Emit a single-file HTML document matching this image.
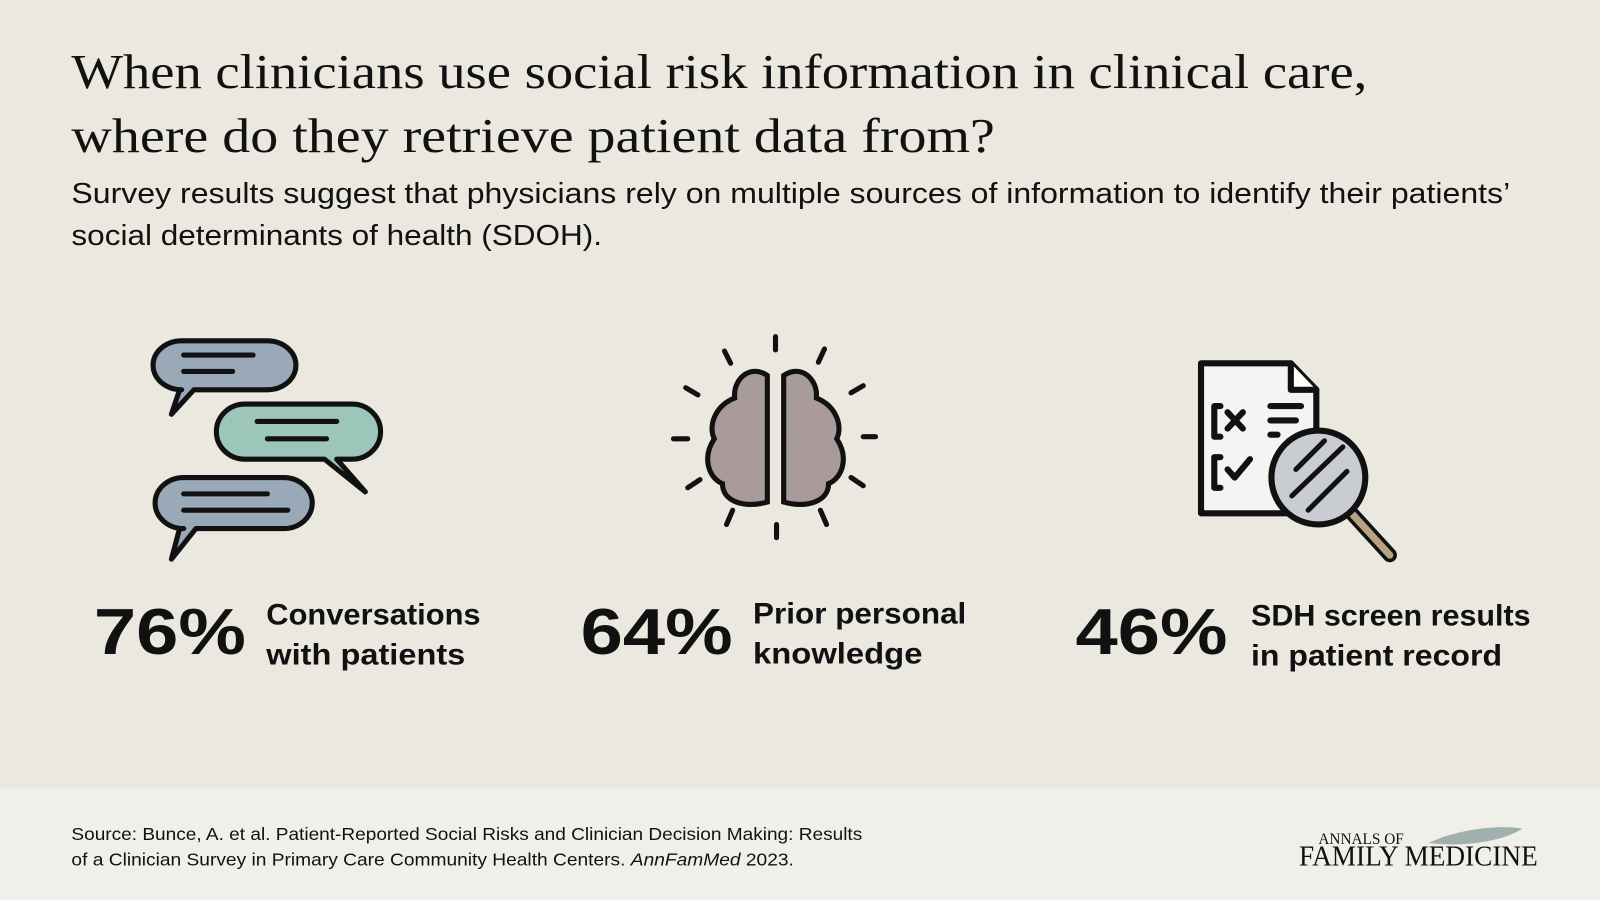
<!DOCTYPE html>
<html><head><meta charset="utf-8"><style>
html,body{margin:0;padding:0;background:#ebe8df;}
svg{display:block}
</style></head><body>
<svg width="1600" height="900" viewBox="0 0 1568 882" preserveAspectRatio="none" xmlns="http://www.w3.org/2000/svg">
<rect width="1568" height="882" fill="#ebe8df"/>
<rect y="772" width="1568" height="110" fill="#f1efea"/>
<g font-family="Liberation Serif, serif" font-size="48" fill="#111">
<text x="70" y="86" textLength="1270" lengthAdjust="spacingAndGlyphs">When clinicians use social risk information in clinical care,</text>
<text x="70" y="149" textLength="905" lengthAdjust="spacingAndGlyphs">where do they retrieve patient data from?</text>
</g>
<g font-family="Liberation Sans, sans-serif" font-size="28" fill="#111">
<text x="70" y="199" textLength="1410" lengthAdjust="spacingAndGlyphs">Survey results suggest that physicians rely on multiple sources of information to identify their patients’</text>
<text x="70" y="240" textLength="520" lengthAdjust="spacingAndGlyphs">social determinants of health (SDOH).</text>
</g>
<!-- chat bubbles -->
<g stroke="#111" stroke-width="5" stroke-linejoin="round">
<path d="M178 334 H262 a28 24 0 0 1 0 48 H190 L168 406 L176 382 H178 a28 24 0 0 1 0 -48 Z" fill="#9aa9b8"/>
<path d="M240 396 H345 a28 27 0 0 1 0 54 H330 L358 482 L318 450 H240 a28 27 0 0 1 0 -54 Z" fill="#9cc6b9"/>
<path d="M180 468 H278 a28 25 0 0 1 0 50 H192 L168 548 L176 518 H180 a28 25 0 0 1 0 -50 Z" fill="#9aa9b8"/>
</g>
<g stroke="#111" stroke-width="5" stroke-linecap="round">
<line x1="180" y1="348" x2="248" y2="348"/><line x1="180" y1="364" x2="228" y2="364"/>
<line x1="252" y1="413" x2="330" y2="413"/><line x1="262" y1="430" x2="320" y2="430"/>
<line x1="180" y1="484" x2="262" y2="484"/><line x1="180" y1="500" x2="282" y2="500"/>
</g>
<!-- brain -->
<g stroke="#111" stroke-width="5" stroke-linecap="round" fill="#a99a9c">
<path d="M752 368 C735 356 718 372 720 390 C700 398 694 418 700 430 C688 448 694 468 708 474 C708 492 730 498 752 492 Z"/>
<path d="M768 368 C785 356 802 372 800 390 C820 398 826 418 820 430 C832 448 826 468 812 474 C812 492 790 498 768 492 Z"/>
<line x1="760" y1="330" x2="760" y2="343" fill="none"/><line x1="761" y1="514" x2="761" y2="527"/>
<line x1="710" y1="344" x2="716" y2="356"/><line x1="808" y1="342" x2="802" y2="355"/>
<line x1="672" y1="380" x2="684" y2="387"/><line x1="846" y1="378" x2="834" y2="385"/>
<line x1="660" y1="430" x2="674" y2="430"/><line x1="846" y1="428" x2="858" y2="428"/>
<line x1="674" y1="478" x2="686" y2="470"/><line x1="846" y1="476" x2="834" y2="468"/>
<line x1="712" y1="514" x2="718" y2="500"/><line x1="810" y1="514" x2="804" y2="500"/>
</g>
<!-- document + magnifier -->
<g stroke="#111" stroke-width="6" stroke-linejoin="round" stroke-linecap="round">
<path d="M1177 356 H1265 L1290 382 V503 H1177 Z" fill="#f4f4f2"/>
<path d="M1265 356 V382 H1290" fill="#fff"/>
<path d="M1196 398 H1190 V428 H1196 M1203 404 L1218 420 M1218 404 L1203 420 M1245 398 H1275 M1245 412 H1270 M1245 426 H1252" fill="none"/>
<path d="M1196 448 H1190 V478 H1196 M1203 460 L1210 468 L1225 450" fill="none"/>
<line x1="1320" y1="498" x2="1362" y2="544" stroke-width="14"/>
<line x1="1320" y1="498" x2="1362" y2="544" stroke="#b7a285" stroke-width="7"/>
<circle cx="1292" cy="468" r="46" fill="#c9ccd0"/>
<path d="M1270 460 L1298 432 M1266 486 L1316 438 M1282 500 L1320 462" stroke-width="5" fill="none"/>
</g>
<!-- stats -->
<g font-family="Liberation Sans, sans-serif" font-weight="bold" fill="#111">
<text x="92" y="641" font-size="64" textLength="149" lengthAdjust="spacingAndGlyphs">76%</text>
<text x="569" y="641" font-size="64" textLength="149" lengthAdjust="spacingAndGlyphs">64%</text>
<text x="1054" y="641" font-size="64" textLength="149" lengthAdjust="spacingAndGlyphs">46%</text>
<g font-size="29">
<text x="261" y="612" textLength="210" lengthAdjust="spacingAndGlyphs">Conversations</text><text x="261" y="651" textLength="195" lengthAdjust="spacingAndGlyphs">with patients</text>
<text x="738" y="611" textLength="209" lengthAdjust="spacingAndGlyphs">Prior personal</text><text x="738" y="650" textLength="166" lengthAdjust="spacingAndGlyphs">knowledge</text>
<text x="1226" y="613" textLength="274" lengthAdjust="spacingAndGlyphs">SDH screen results</text><text x="1226" y="652" textLength="246" lengthAdjust="spacingAndGlyphs">in patient record</text>
</g></g>
<g font-family="Liberation Sans, sans-serif" font-size="17.5" fill="#111">
<text x="70" y="823" textLength="775" lengthAdjust="spacingAndGlyphs">Source: Bunce, A. et al. Patient-Reported Social Risks and Clinician Decision Making: Results</text>
<text x="70" y="848" textLength="708" lengthAdjust="spacingAndGlyphs">of a Clinician Survey in Primary Care Community Health Centers. <tspan font-style="italic">AnnFamMed</tspan> 2023.</text>
</g>
<path d="M1400 826 C1430 812 1470 808 1492 812 C1470 826 1430 830 1400 826 Z" fill="#9fb0ad"/>
<g font-family="Liberation Serif, serif" fill="#111">
<text x="1292" y="827" font-size="15">ANNALS OF</text>
<text x="1273" y="848" font-size="28" textLength="234" lengthAdjust="spacingAndGlyphs">FAMILY MEDICINE</text>
</g>
</svg>
</body></html>
